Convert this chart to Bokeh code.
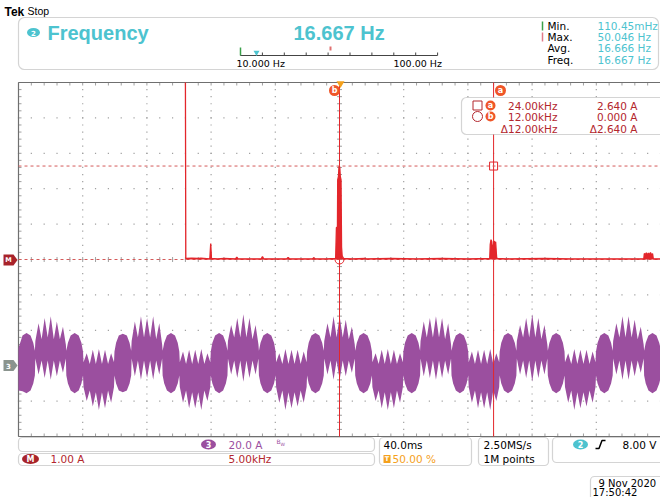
from bokeh.plotting import figure
from bokeh.models import Range1d, BoxAnnotation
from bokeh.core.properties import value
from bokeh.embed import file_html
from bokeh.resources import INLINE

# ---------------- data ----------------
meas_title = "Frequency"
meas_value = "16.667 Hz"
stat_names = ["Min.", "Max.", "Avg.", "Freq."]
stat_values = ["110.45mHz", "50.046 Hz", "16.666 Hz", "16.667 Hz"]
scale_labels = ["10.000 Hz", "100.00 Hz"]
cursor_freq_text = ["24.00kHz", "12.00kHz", "\u039412.00kHz"]
cursor_amp_text = ["2.640 A", "0.000 A", "\u03942.640 A"]
cursor_a = (24.0, 2.640)   # kHz, A
cursor_b = (12.0, 0.000)
status_ch3 = ["20.0 A"]
status_math = ["1.00 A", "5.00kHz"]
status_time = ["40.0ms", "50.00 %"]
status_acq = ["2.50MS/s", "1M points"]
status_trig = ["8.00 V"]
date_text = ["9 Nov 2020", "17:50:42"]

# FFT of channel 3 (math M): frequency in kHz, magnitude in A
fft_freq_khz = [0.00, 0.03, 0.5, 1.0, 1.2, 1.90, 1.97, 2.03, 2.5, 3.0, 3.9, 4.0, 4.1, 5.0,
                5.9, 6.0, 6.1, 7.0, 7.9, 8.0, 8.1, 9.0, 9.9, 10.0, 10.1, 11.0,
                11.70, 11.76, 11.84, 11.86, 11.92, 11.96, 12.02, 12.06, 12.12, 12.16, 12.22,
                13.0, 14.0, 14.1, 16.0, 18.0, 20.0, 22.0,
                23.70, 23.74, 23.80, 23.86, 23.92, 23.98, 24.04, 24.10, 24.16, 24.24, 24.30,
                25.0, 28.0, 30.0, 32.0, 34.0,
                35.70, 35.74, 35.82, 35.90, 35.98, 36.06, 36.14, 36.22, 36.30, 36.38, 36.44,
                37.2]
fft_amp_a = [5.00, 0.03, 0.04, 0.03, 0.04, 0.02, 0.45, 0.03, 0.02, 0.03, 0.02, 0.07, 0.02, 0.02,
             0.02, 0.08, 0.02, 0.02, 0.02, 0.06, 0.02, 0.02, 0.02, 0.05, 0.02, 0.02,
             0.03, 0.90, 0.92, 2.25, 2.35, 2.62, 2.62, 2.35, 2.25, 0.35, 0.03,
             0.02, 0.03, 0.02, 0.03, 0.02, 0.03, 0.02,
             0.03, 0.42, 0.56, 0.50, 0.28, 0.38, 0.52, 0.47, 0.50, 0.05, 0.03,
             0.02, 0.03, 0.02, 0.02, 0.02,
             0.02, 0.17, 0.14, 0.19, 0.12, 0.18, 0.13, 0.20, 0.12, 0.17, 0.02,
             0.02]

# channel 3 current band (time in ms, upper / lower edge of the trace in A)
ch3_t_ms = [
    -200.0, -197.5, -195.0, -192.5, -190.8, -189.8,
    -189.5, -187.5, -185.6, -183.7, -181.8, -179.9, -178.0, -176.1, -174.2, -172.3, -170.5,
    -170.2, -169.2, -167.5, -165.0, -162.5, -160.8, -159.8,
    -159.5, -157.5, -155.6, -153.7, -151.8, -149.9, -148.0, -146.1, -144.2, -142.3, -140.5,
    -140.2, -139.2, -137.5, -135.0, -132.5, -130.8, -129.8,
    -129.5, -127.5, -125.6, -123.7, -121.8, -119.9, -118.0, -116.1, -114.2, -112.3, -110.5,
    -110.2, -109.2, -107.5, -105.0, -102.5, -100.8, -99.8,
    -99.5, -97.5, -95.6, -93.7, -91.8, -89.9, -88.0, -86.1, -84.2, -82.3, -80.5,
    -80.2, -79.2, -77.5, -75.0, -72.5, -70.8, -69.8,
    -69.5, -67.5, -65.6, -63.7, -61.8, -59.9, -58.0, -56.1, -54.2, -52.3, -50.5,
    -50.2, -49.2, -47.5, -45.0, -42.5, -40.8, -39.8,
    -39.5, -37.5, -35.6, -33.7, -31.8, -29.9, -28.0, -26.1, -24.2, -22.3, -20.5,
    -20.2, -19.2, -17.5, -15.0, -12.5, -10.8, -9.8,
    -9.5, -7.5, -5.6, -3.7, -1.8, 0.1, 2.0, 3.9, 5.8, 7.7, 9.5,
    9.8, 10.8, 12.5, 15.0, 17.5, 19.2, 20.2,
    20.5, 22.5, 24.4, 26.3, 28.2, 30.1, 32.0, 33.9, 35.8, 37.7, 39.5,
    39.8, 40.8, 42.5, 45.0, 47.5, 49.2, 50.2,
    50.5, 52.5, 54.4, 56.3, 58.2, 60.1, 62.0, 63.9, 65.8, 67.7, 69.5,
    69.8, 70.8, 72.5, 75.0, 77.5, 79.2, 80.2,
    80.5, 82.5, 84.4, 86.3, 88.2, 90.1, 92.0, 93.9, 95.8, 97.7, 99.5,
    99.8, 100.8, 102.5, 105.0, 107.5, 109.2, 110.2,
    110.5, 112.5, 114.4, 116.3, 118.2, 120.1, 122.0, 123.9, 125.8, 127.7, 129.5,
    129.8, 130.8, 132.5, 135.0, 137.5, 139.2, 140.2,
    140.5, 142.5, 144.4, 146.3, 148.2, 150.1, 152.0, 153.9, 155.8, 157.7, 159.5,
    159.8, 160.8, 162.5, 165.0, 167.5, 169.2, 170.2,
    170.5, 172.5, 174.4, 176.3, 178.2, 180.1, 182.0, 183.9, 185.8, 187.7, 189.5,
    189.8, 190.8, 192.5, 195.0, 197.5, 199.2, 200.0,
]
ch3_hi_a = [
    10, 17, 18.5, 17, 13, 8.5,
    14, 24, 15, 27, 16, 28, 15, 25, 15, 22, 12,
    8.5, 13, 17, 18.5, 17, 13, 8,
    2, 7, 1, 9, 1, 9.5, 1, 9, 1, 7, 2,
    8, 13, 17, 18, 17, 13, 8.5,
    14, 25, 16, 28, 16, 27, 16, 28, 15, 24, 12,
    8.5, 13, 17, 18.5, 17, 13, 8,
    2, 8, 1, 9, 1, 9, 1, 9.5, 1, 7, 2,
    8, 13, 17, 18.5, 17, 13, 8.5,
    14, 23, 16, 27, 16, 29, 16, 27, 15, 23, 12,
    8.5, 13, 17, 18.5, 17, 13, 8,
    2, 7, 1, 9.5, 1, 9, 1, 9, 1, 8, 2,
    8, 13, 17, 18.5, 17, 13, 8.5,
    14, 24, 16, 28, 16, 28, 16, 26, 15, 22, 12,
    8.5, 13, 17, 18.5, 17, 13, 8,
    2, 7, 1, 9, 1, 9.5, 1, 9, 1, 7, 2,
    8, 13, 17, 18.5, 17, 13, 8.5,
    14, 25, 16, 27, 16, 28, 16, 27, 15, 24, 12,
    8.5, 13, 17, 18.5, 17, 13, 8,
    2, 8, 1, 9, 1, 9, 1, 9.5, 1, 7, 2,
    8, 13, 17, 18.5, 17, 13, 8.5,
    14, 23, 16, 27, 16, 29, 16, 27, 15, 23, 12,
    8.5, 13, 17, 18.5, 17, 13, 8,
    2, 7, 1, 9.5, 1, 9, 1, 9, 1, 8, 2,
    8, 13, 17, 18.5, 17, 13, 8.5,
    14, 24, 16, 28, 16, 28, 16, 26, 15, 22, 12,
    8.5, 13, 17, 18.5, 17, 13, 10,
]
ch3_lo_a = [
    -14, -14.5, -15.5, -14, -10, -5.5,
    4, -5, 3, -7, 3, -8, 3, -6, 3, -4, 4,
    -5.5, -10, -14, -15.5, -14, -10, -5.5,
    -12, -20, -14, -23, -15, -25, -15, -24, -14, -21, -12,
    -5.5, -10, -14, -15, -14, -10, -5.5,
    4, -6, 3, -8, 3, -7, 3, -8, 3, -5, 4,
    -5.5, -10, -14, -15.5, -14, -10, -5.5,
    -12, -21, -14, -24, -15, -24, -15, -25, -14, -20, -12,
    -5.5, -10, -14, -15.5, -14, -10, -5.5,
    4, -5, 3, -7, 3, -9, 3, -7, 3, -5, 4,
    -5.5, -10, -14, -15.5, -14, -10, -5.5,
    -12, -21, -14, -25, -15, -24, -15, -23, -14, -21, -12,
    -5.5, -10, -14, -15.5, -14, -10, -5.5,
    4, -5, 3, -8, 3, -8, 3, -6, 3, -4, 4,
    -5.5, -10, -14, -15.5, -14, -10, -5.5,
    -12, -20, -14, -24, -15, -25, -15, -24, -14, -21, -12,
    -5.5, -10, -14, -15.5, -14, -10, -5.5,
    4, -6, 3, -7, 3, -8, 3, -7, 3, -5, 4,
    -5.5, -10, -14, -15.5, -14, -10, -5.5,
    -12, -21, -14, -24, -15, -24, -15, -25, -14, -20, -12,
    -5.5, -10, -14, -15.5, -14, -10, -5.5,
    4, -5, 3, -7, 3, -9, 3, -7, 3, -5, 4,
    -5.5, -10, -14, -15.5, -14, -10, -5.5,
    -12, -21, -14, -25, -15, -24, -15, -23, -14, -21, -12,
    -5.5, -10, -14, -15.5, -14, -10, -5.5,
    4, -5, 3, -8, 3, -8, 3, -6, 3, -4, 4,
    -5.5, -10, -14, -15.5, -14, -10, -7,
]

# ---------------- layout / style ----------------
W, H = 660, 497
GL, GT = 18.0, 82.0          # graticule left / top (px)
DX, DY = 64.2, 35.4          # division size (px)
NX, NY = 10, 10
GR, GB = GL + NX * DX, GT + NY * DY
CX, CY = GL + 5 * DX, GT + 5 * DY
T_DIV, F_DIV, FA_DIV, I_DIV = 40.0, 5.0, 1.0, 20.0
F_CENTER = 12.0
CH3_OFFSET_DIV = -3.0

TEAL = "#4dc3cf"
RED = "#e3262b"
DKRED = "#b3262d"
BADGE = "#ef5628"
PURPLE = "#9b4f9f"
ORANGE = "#f5a11c"
GRID = "#a0a0a0"
FRAME = "#6f6f6f"
FONT = "DejaVu Sans"

p = figure(width=W, height=H, x_range=Range1d(0, W), y_range=Range1d(H, 0),
           output_backend="svg", toolbar_location=None,
           x_axis_location=None, y_axis_location=None, min_border=0)
p.outline_line_color = None
p.grid.visible = False
p.background_fill_color = "white"
p.border_fill_color = "white"

p.extra_x_ranges = {
    "t": Range1d((0 - CX) / DX * T_DIV, (W - CX) / DX * T_DIV),
    "f": Range1d(F_CENTER + (0 - CX) / DX * F_DIV, F_CENTER + (W - CX) / DX * F_DIV),
}
p.extra_y_ranges = {
    "fa": Range1d((CY - H) / DY * FA_DIV, CY / DY * FA_DIV),
    "ia": Range1d(((CY - H) / DY - CH3_OFFSET_DIV) * I_DIV, (CY / DY - CH3_OFFSET_DIV) * I_DIV),
}


def size_px(s):
    return "%gpx" % s


def txt(x, y, s, size=10, color="black", style="normal", align="left", font=FONT,
        baseline="middle"):
    p.text(x=[x], y=[y], text=[s], text_font=value(font), text_font_size=size_px(size),
           text_color=color, text_font_style=style, text_align=align,
           text_baseline=baseline, level="overlay")


def rbox(l, r, t, b, radius=5, fill="white", line=FRAME, level="annotation"):
    p.add_layout(BoxAnnotation(left=l, right=r, top=t, bottom=b, border_radius=radius,
                               fill_color=fill, fill_alpha=1.0, line_color=line,
                               line_width=1.2, level=level))


# ---------- graticule ----------
dx_, dy_ = [], []
for i in range(1, NX):
    x = GL + i * DX
    for j in range(NY * 5 + 1):
        dx_.append(x); dy_.append(GT + j * DY / 5)
for k in range(1, NY):
    y = GT + k * DY
    for j in range(NX * 5 + 1):
        dx_.append(GL + j * DX / 5); dy_.append(y)
p.rect(dx_, dy_, width=1.2, height=1.2, fill_color=GRID, line_color=None)

sx0, sy0, sx1, sy1 = [], [], [], []
for j in range(NX * 5 + 1):
    x = GL + j * DX / 5
    sx0 += [x, x, x]; sx1 += [x, x, x]
    sy0 += [CY - 2.5, GT, GB - 3]; sy1 += [CY + 2.5, GT + 3, GB]
for j in range(NY * 5 + 1):
    y = GT + j * DY / 5
    sx0 += [CX - 2.5, GL]; sx1 += [CX + 2.5, GL + 3]
    sy0 += [y, y]; sy1 += [y, y]
p.segment(sx0, sy0, sx1, sy1, line_color=GRID, line_width=1)
p.segment([GL, GL, GL], [GT, GB, GT], [GR, GR, GL], [GT, GB, GB], line_color=FRAME,
          line_width=1.2)

# ---------- traces ----------
p.varea(x=ch3_t_ms, y1=ch3_lo_a, y2=ch3_hi_a, x_range_name="t", y_range_name="ia",
        fill_color=PURPLE, fill_alpha=1.0)

# cursor lines
p.segment(x0=[cursor_a[0], cursor_b[0]], y0=[5.0, 5.0], x1=[cursor_a[0], cursor_b[0]],
          y1=[-5.0, -5.0], x_range_name="f", y_range_name="fa", line_color=RED,
          line_width=1)
f_left = F_CENTER - 5 * F_DIV
f_right = F_CENTER + (W - CX) / DX * F_DIV
p.segment(x0=[f_left, f_left], y0=[cursor_a[1], cursor_b[1]], x1=[f_right, f_right],
          y1=[cursor_a[1], cursor_b[1]], x_range_name="f", y_range_name="fa",
          line_color="#d45a5a", line_width=1, line_dash="3 3")

p.varea(x=fft_freq_khz, y1=[0.0] * len(fft_freq_khz), y2=fft_amp_a, x_range_name="f",
        y_range_name="fa", fill_color=RED, fill_alpha=1.0)
p.line(fft_freq_khz, fft_amp_a, x_range_name="f", y_range_name="fa", line_color=RED,
       line_width=1.3)
p.scatter([cursor_a[0]], [cursor_a[1]], x_range_name="f", y_range_name="fa",
          marker="square", size=8, fill_color=None, line_color=RED, line_width=1)
p.scatter([cursor_b[0]], [cursor_b[1]], x_range_name="f", y_range_name="fa",
          marker="circle", size=9, fill_color=None, line_color=RED, line_width=1)

# ---------- header ----------
txt(4, 11, "Tek", 12, style="bold", font="Liberation Sans")
txt(27, 10, "Stop", 10.5, font="Liberation Sans")
rbox(18, 658, 17, 69, radius=6)
p.ellipse([33], [32], width=13, height=9, fill_color=TEAL, line_color=None, level="overlay")
txt(33, 32, "2", 7, color="white", style="bold", align="center")
txt(47, 32, meas_title, 20, color=TEAL, style="bold", font="Liberation Sans")
txt(293, 32, meas_value, 20, color=TEAL, style="bold", font="Liberation Sans")

sx = [240 + k * 21.9 for k in range(10)]
p.segment([240], [55], [437], [55], line_color="#444", line_width=1, level="overlay")
p.segment(sx, [55] * 10, sx, [52] * 10, line_color="#444", line_width=1, level="overlay")
p.segment([240], [47], [240], [55], line_color="#3aa04a", line_width=1.5, level="overlay")
p.scatter([256], [52], marker="inverted_triangle", size=6, fill_color=TEAL,
          line_color=None, level="overlay")
p.segment([330], [46], [330], [50], line_color="#e07070", line_width=2, level="overlay")
txt(236, 62.5, scale_labels[0], 9.5)
txt(393, 62.5, scale_labels[1], 9.5)

for i, (n, v) in enumerate(zip(stat_names, stat_values)):
    y = 25.5 + i * 11.2
    txt(547, y, n, 10.5)
    txt(597, y, v, 10.5, color=TEAL)
p.segment([542, 542], [21, 32], [542, 542], [30, 41], line_color=["#3aa04a", "#e07a8a"],
          line_width=1.5, level="overlay")

# ---------- graticule annotations ----------
p.scatter([CX + 1], [83], marker="inverted_triangle", size=8, fill_color=ORANGE,
          line_color=None, level="overlay")
p.scatter([334, 500], [90, 90], marker="circle", size=11, fill_color=BADGE,
          line_color=None, level="overlay")
txt(334, 90, "b", 8, color="white", style="bold", align="center")
txt(500, 90, "a", 8, color="white", style="bold", align="center")

rbox(461, 670, 97, 134, radius=5)
rows_y = [105, 116, 128]
p.scatter([477], [105], marker="square", size=9, fill_color=None, line_color=DKRED,
          line_width=1, level="overlay")
p.scatter([477], [116], marker="circle", size=10, fill_color=None, line_color=DKRED,
          line_width=1, level="overlay")
p.scatter([490, 490], [105, 116], marker="circle", size=10, fill_color=BADGE,
          line_color=None, level="overlay")
txt(490, 105, "a", 8, color="white", style="bold", align="center")
txt(490, 116, "b", 8, color="white", style="bold", align="center")
for i in range(3):
    txt(557, rows_y[i], cursor_freq_text[i], 10.5, color=DKRED, align="right")
    txt(637, rows_y[i], cursor_amp_text[i], 10.5, color=DKRED, align="right")

p.patch([3, 13, 17, 13, 3], [254, 254, 259.5, 265, 265], fill_color="#a8232a",
        line_color=None, level="overlay")
txt(8, 259.5, "M", 6.5, color="white", style="bold", align="center")
p.patch([3, 13, 17, 13, 3], [359.5, 359.5, 365, 370.5, 370.5], fill_color="#8a948e",
        line_color=None, level="overlay")
txt(8, 365, "3", 7, color="white", style="bold", align="center")

# ---------- status bar ----------
rbox(18, 374, 437, 451, radius=4)
rbox(18, 374, 453, 465, radius=4)
rbox(379, 471, 437, 465, radius=4)
rbox(478, 548, 437, 465, radius=4)
rbox(552, 668, 437, 462, radius=4)
rbox(590, 668, 476, 505, radius=4)

p.ellipse([208], [444], width=15, height=10, fill_color=PURPLE, line_color=None,
          level="overlay")
txt(208, 444, "3", 8, color="white", style="bold", align="center")
txt(228, 444, status_ch3[0], 10.5, color=PURPLE)
txt(276, 441, "B", 6, color=PURPLE)
txt(280, 444, "W", 4.5, color=PURPLE)

p.ellipse([30], [458.5], width=17, height=10, fill_color="#a8232a", line_color=None,
          level="overlay")
txt(30, 458.5, "M", 8, color="white", style="bold", align="center")
txt(50, 458.5, status_math[0], 10.5, color=DKRED)
txt(228, 458.5, status_math[1], 10.5, color=DKRED)

txt(383, 444, status_time[0], 10.5)
p.rect([386.5], [458.5], width=7, height=8, fill_color=ORANGE, line_color=None,
       level="overlay")
txt(386.5, 458.5, "T", 6.5, color="white", style="bold", align="center")
txt(392, 458.5, status_time[1], 10.5, color=ORANGE)

txt(483, 444, status_acq[0], 10.5)
txt(483, 458.5, status_acq[1], 10.5)

p.ellipse([580], [444], width=15, height=10, fill_color=TEAL, line_color=None,
          level="overlay")
txt(580, 444, "2", 8, color="white", style="bold", align="center")
p.line([595, 598.5, 601.5, 605], [448, 448, 440, 440], line_color="black", line_width=1.5,
       level="overlay")
txt(656, 444, status_trig[0], 10.5, align="right")

txt(598, 482.5, date_text[0], 10)
txt(592, 491.5, date_text[1], 10)

open("out.html", "w").write(file_html(p, INLINE))
